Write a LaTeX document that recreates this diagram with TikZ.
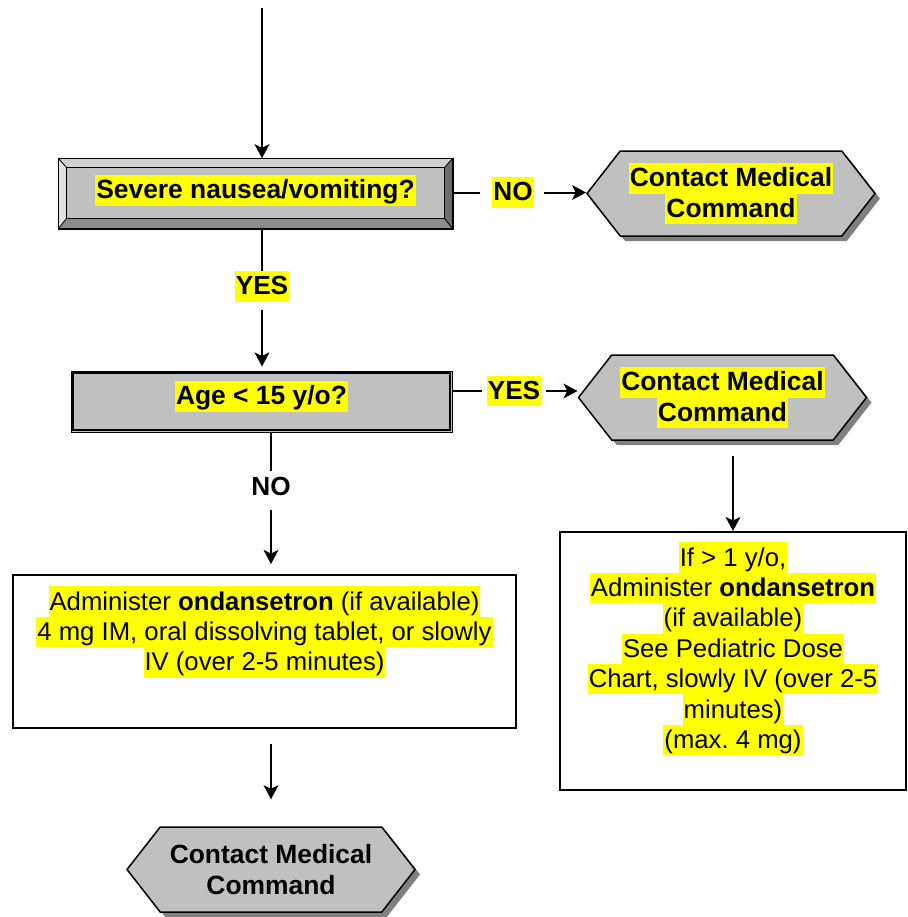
\documentclass[tikz,border=0pt]{standalone}
\usepackage{fontspec}
\setmainfont{Liberation Sans}
\usetikzlibrary{arrows.meta,positioning,shapes.symbols,shadows}
\definecolor{facegray}{HTML}{C0C0C0}
\definecolor{bevlight}{HTML}{E2E2E2}
\definecolor{bevtop}{HTML}{D0D0D0}
\definecolor{bevdark}{HTML}{8C8C8C}
\definecolor{bevdarker}{HTML}{6C6C6C}
\definecolor{shadowgray}{HTML}{808080}
\definecolor{hlyellow}{HTML}{FFFF00}
\frenchspacing
\newcommand\hlstrut{\rule[-3.4pt]{0pt}{15.2pt}}
\newcommand\hl[1]{{\setlength{\fboxsep}{0pt}\colorbox{hlyellow}{\hlstrut\kern0.5pt#1\kern0.5pt}}}
\tikzset{
  every node/.style={font=\fontsize{13.1pt}{15.2pt}\selectfont},
  flow/.style={line width=1pt},
  arr/.style={flow,-{Stealth[length=7pt,width=7.4pt,inset=1.8pt]}},
  lbl/.style={inner sep=0pt,font=\fontsize{13.1pt}{15.2pt}\selectfont\bfseries},
  bevelbox/.style={draw,line width=0.75pt,fill=facegray,minimum width=196.5pt,minimum height=34.5pt,
    inner sep=0pt,font=\fontsize{13.2pt}{15.2pt}\selectfont\bfseries,text height=11.8pt,text depth=6.4pt},
  dblbox/.style={draw,line width=0.5pt,fill=facegray,minimum width=190.5pt,minimum height=30.5pt,
    inner sep=0pt,font=\fontsize{13.2pt}{15.2pt}\selectfont\bfseries,text height=11.8pt,text depth=8.4pt},
  hexbox/.style={signal,signal to=west and east,signal pointer angle=104,draw,line width=0.75pt,
    fill=facegray,minimum width=144pt,minimum height=42.5pt,inner sep=0pt,align=center,
    font=\fontsize{13.2pt}{15.2pt}\selectfont\bfseries,
    drop shadow={shadow xshift=2.5pt,shadow yshift=-2.5pt,fill=shadowgray,opacity=1}},
  txtbox/.style={draw,line width=1pt,fill=white},
  txt/.style={inner sep=0pt,align=center,font=\fontsize{12.85pt}{15.2pt}\selectfont}
}
\begin{document}
\begin{tikzpicture}[x=0.5pt,y=-0.5pt]
\useasboundingbox (0,0) rectangle (907,917);
% decision boxes
\node[bevelbox] (nausea) at (255.5,193.5) {\hl{Severe nausea/vomiting?}};
\fill[bevtop] (nausea.north west) -- (nausea.north east) -- ([shift={(-4pt,-4.5pt)}]nausea.north east) -- ([shift={(4pt,-4.5pt)}]nausea.north west) -- cycle;
\fill[bevlight] (nausea.north west) -- ([shift={(4pt,-4.5pt)}]nausea.north west) -- ([shift={(4pt,5pt)}]nausea.south west) -- (nausea.south west) -- cycle;
\fill[bevdark] (nausea.south west) -- ([shift={(4pt,5pt)}]nausea.south west) -- ([shift={(-4pt,5pt)}]nausea.south east) -- (nausea.south east) -- cycle;
\fill[bevdarker] (nausea.south east) -- ([shift={(-4pt,5pt)}]nausea.south east) -- ([shift={(-4pt,-4.5pt)}]nausea.north east) -- (nausea.north east) -- cycle;
\draw[line width=0.75pt] (nausea.north west) rectangle (nausea.south east);
\draw[line width=0.5pt] ([shift={(4pt,-4.5pt)}]nausea.north west) rectangle ([shift={(-4pt,5pt)}]nausea.south east);
\foreach \c/\dx/\dy in {north west/4/-4.5,north east/-4/-4.5,south west/4/5,south east/-4/5}
  \draw[line width=0.4pt] (nausea.\c) -- ([shift={(\dx pt,\dy pt)}]nausea.\c);
\node[dblbox] (age) at (261.5,401.5) {\hl{Age < 15 y/o?}};
\draw[line width=0.9pt] ([shift={(1.3pt,-1.3pt)}]age.north west) rectangle ([shift={(-1.3pt,1.3pt)}]age.south east);
% contact boxes
\node[hexbox] (call1) at (731,193.5) {\hl{Contact Medical}\\\hl{Command}};
\node[hexbox] (call2) at (722.5,397.5) {\hl{Contact Medical}\\\hl{Command}};
\node[hexbox] (call3) at (271,869.5) {Contact Medical\\Command};
% treatment boxes
\node[txtbox,minimum width=251.5pt,minimum height=76.5pt] (adult) at (264.5,651.5) {};
\node[txt,below=6pt of adult.north] (adulttxt) {\hl{Administer \textbf{ondansetron} (if available)}\\
  \hl{4 mg IM, oral dissolving tablet, or slowly}\\\hl{IV (over 2-5 minutes)}};
\node[txtbox,minimum width=173pt,minimum height=129pt] (peds) at (733,661) {};
\node[txt,below=5.5pt of peds.north] (pedstxt) {\hl{If > 1 y/o,}\\\hl{Administer \textbf{ondansetron}}\\
  \hl{(if available)}\\\hl{See Pediatric Dose}\\\hl{Chart, slowly IV (over 2-5}\\\hl{minutes)}\\\hl{(max. 4 mg)}};
% connectors
\coordinate (start) at (262,8);
\draw[arr] (start) -- (start |- nausea.north);
\node[lbl] (yes1) at (262,286.5) {\hl{YES}};
\draw[flow] (yes1 |- nausea.south) -- (yes1);
\draw[arr,shorten <=4pt,shorten >=2pt] (yes1) -- (yes1 |- age.north);
\node[lbl] (no1) at (513,192.5) {\hl{NO}};
\draw[flow,shorten >=6pt] (nausea.east |- no1) -- (no1);
\draw[arr,shorten <=5pt] (no1) -- (no1 -| call1.west);
\node[lbl] (yes2) at (514,391) {\hl{YES}};
\draw[flow,shorten >=2pt] (age.east |- yes2) -- (yes2);
\draw[arr,shorten <=2pt] (yes2) -- (yes2 -| call2.west);
\node[lbl] (no2) at (271,487) {\hlstrut NO};
\draw[flow] (no2 |- age.south) -- (no2);
\draw[arr,shorten <=3.5pt,shorten >=5pt] (no2) -- (no2 |- adult.north);
\draw[arr,shorten <=7.5pt] (peds.north |- call2.south) -- (peds.north);
\draw[arr,shorten <=7.5pt,shorten >=13.5pt] (call3.north |- adult.south) -- (call3.north);
\end{tikzpicture}
\end{document}
